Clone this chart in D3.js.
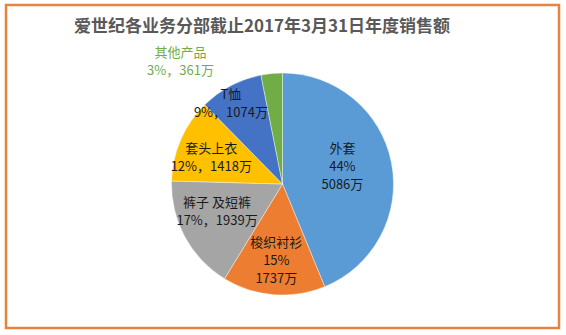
<!DOCTYPE html>
<html><head><meta charset="utf-8">
<script src="https://cdn.jsdelivr.net/npm/d3@7/dist/d3.min.js"></script>
<style>body{margin:0;background:#fff}svg{display:block}</style>
</head><body><svg id="c" width="566" height="335"></svg>
<script>
const categories = ["外套","梭织衬衫","裤子 及短裤","套头上衣","T恤","其他产品"];
const values = [5086,1737,1939,1418,1074,361];
const percents = ["44%","15%","17%","12%","9%","3%"];
const colors = ["#5B9BD5","#ED7D31","#A5A5A5","#FFC000","#4472C4","#70AD47"];
const title = "爱世纪各业务分部截止2017年3月31日年度销售额";

// layout (not data)
const labelLayout = [
  {r:0.55, dx:0, dy:-6, split:true},
  {r:0.70, dx:0, dy:-1, split:true},
  {r:0.64, dx:-3, dy:-6, split:false},
  {r:0.70, dx:0, dy:5, split:false},
  {r:0.86, dx:-7, dy:4, split:false},
  {r:0, dx:0, dy:0, split:false, outside:true}
];

const svg = d3.select("#c");
const font = "'Noto Sans CJK SC','Microsoft YaHei',sans-serif";
svg.append("rect").attr("x",6).attr("y",5).attr("width",553).attr("height",323)
  .attr("fill","#fff").attr("stroke","#E8833E").attr("stroke-width",2.5);

svg.append("text").attr("x",262).attr("y",32).attr("text-anchor","middle")
  .attr("font-family",font).attr("font-size",17).attr("font-weight","bold")
  .attr("fill","#595959").text(title);

const cx = 282.5, cy = 184, R = 111;
const g = svg.append("g").attr("transform",`translate(${cx},${cy})`);
const pie = d3.pie().sort(null).value(d=>d);
const arcs = pie(values);
const arc = d3.arc().innerRadius(0).outerRadius(R);
g.selectAll("path").data(arcs).join("path").attr("d",arc)
  .attr("fill",(d,i)=>colors[i]).attr("stroke","#fff").attr("stroke-width",0.4);

arcs.forEach((d,i)=>{
  const L = labelLayout[i];
  const mid = (d.startAngle+d.endAngle)/2;
  if (L.outside) {
    const defs = svg.append("defs");
    const grad = defs.append("linearGradient").attr("id","lg").attr("x1","0%").attr("x2","100%");
    grad.append("stop").attr("offset","0%").attr("stop-color","#7f7f7f");
    grad.append("stop").attr("offset","100%").attr("stop-color","#e0e0e0");
    g.append("path").attr("d",`M-110,-110 L${R*Math.sin(d.endAngle)},${-R*Math.cos(d.endAngle)+1}`)
      .attr("stroke","url(#lg)").attr("stroke-width",1.2).attr("fill","none");
    const t = g.append("text").attr("font-family",font).attr("font-size",13)
      .attr("fill","#70AD47").attr("text-anchor","middle");
    t.append("tspan").attr("x",-102).attr("y",-127).text(categories[i]);
    t.append("tspan").attr("x",-102).attr("y",-109).text(`${percents[i]}，${values[i]}万`);
    return;
  }
  const x = L.r*R*Math.sin(mid) + L.dx, y = -L.r*R*Math.cos(mid) + L.dy;
  const lines = L.split ? [categories[i], percents[i], values[i]+"万"]
                        : [categories[i], `${percents[i]}，${values[i]}万`];
  const lh = 18;
  const t = g.append("text").attr("font-family",font).attr("text-anchor","middle").attr("fill","#1a1a1a");
  lines.forEach((s,k)=>{
    t.append("tspan").attr("x",x).attr("y",y + (k-(lines.length-1)/2)*lh + 4.5)
      .attr("font-size", 13).text(s);
  });
});
</script></body></html>
